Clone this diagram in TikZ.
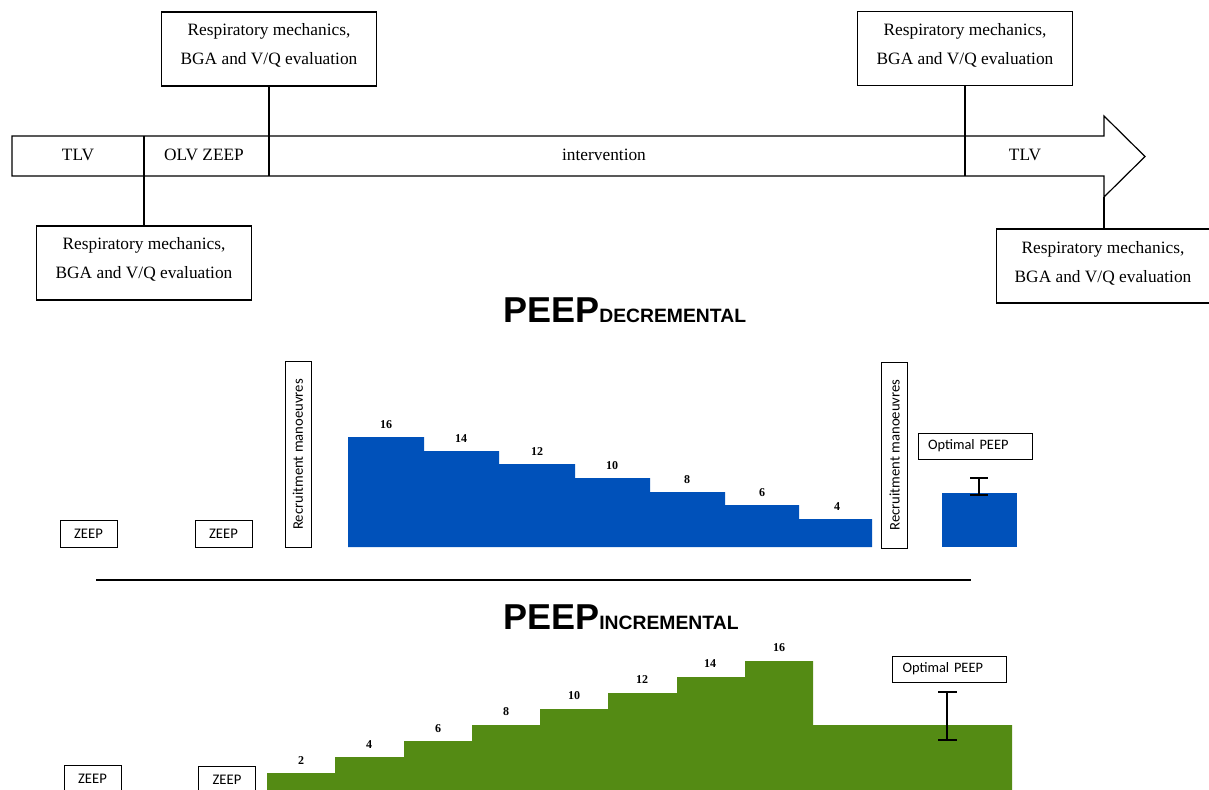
\documentclass[tikz,border=0pt]{standalone}
\usepackage{fontspec}
\setmainfont{Liberation Serif}
\newfontfamily\calibrifont{Carlito}
\newfontfamily\arialfont{Liberation Sans}
\definecolor{peepblue}{RGB}{0,81,186}
\definecolor{peepgreen}{RGB}{84,139,20}
\begin{document}
\begin{tikzpicture}[x=0.75pt,y=-0.75pt,
  frame/.style={draw=black, line width=0.9pt},
  evalbox/.style={draw=black, line width=0.8pt, minimum width=161.25pt, minimum height=55.5pt, inner sep=0pt},
  evaltext/.style={align=center, inner sep=0pt, font=\fontsize{13}{21.75}\selectfont},
  arrowtext/.style={inner sep=0pt, font=\fontsize{13}{15}\selectfont},
  steplabel/.style={inner sep=0pt, font=\bfseries\fontsize{9}{10}\selectfont},
  zeepbox/.style={draw=black, line width=0.6pt, minimum width=42.75pt, minimum height=20.25pt, inner sep=0pt, font=\calibrifont\fontsize{11}{12}\selectfont},
  recbox/.style={draw=black, line width=0.7pt, rotate=90, minimum width=139.5pt, minimum height=19.5pt, inner sep=0pt, font=\calibrifont\fontsize{11}{12}\selectfont},
  optbox/.style={draw=black, line width=0.6pt, minimum height=19.5pt, text width=70.5pt, inner xsep=7.5pt, inner ysep=0pt, align=left, font=\calibrifont\fontsize{10.8}{12}\selectfont},
  errbar/.style={draw=black, line width=1.9pt},
  title/.style={anchor=base west, inner sep=0pt, font=\arialfont\bfseries}
]
\clip (0,0) rectangle (1209,789);

% ---------- timeline arrow ----------
\draw[frame] (12,136) -- (1104,136) -- (1104,116) -- (1145,156.5) -- (1104,197) -- (1104,176) -- (12,176) -- cycle;
\coordinate (d1t) at (144,136); \coordinate (d1b) at (144,176);
\coordinate (d2t) at (269,136); \coordinate (d2b) at (269,176);
\coordinate (d3t) at (965,136); \coordinate (d3b) at (965,176);
\coordinate (hb) at (1104,197);
\draw[frame] (d1t) -- (d1b);
\draw[frame] (d2t) -- (d2b);
\draw[frame] (d3t) -- (d3b);

\node[arrowtext] (p1) at (78,155) {TLV};
\node[arrowtext] (p2) at (204,155) {OLV ZEEP};
\node[arrowtext] (p3) at (604,155) {intervention};
\node[arrowtext] (p4) at (1025,155) {TLV};

% ---------- evaluation boxes ----------
\node[evalbox] (b1) at (269,49) {};
\node[evaltext] (t1) at (269,45.5) {Respiratory mechanics,\\BGA and V/Q evaluation};
\draw[frame] (b1.south) -- (d2t);

\node[evalbox] (b2) at (965,48.5) {};
\node[evaltext] (t2) at (965,45) {Respiratory mechanics,\\BGA and V/Q evaluation};
\draw[frame] (b2.south) -- (d3t);

\node[evalbox] (b3) at (144,263) {};
\node[evaltext] (t3) at (144,259.5) {Respiratory mechanics,\\BGA and V/Q evaluation};
\draw[frame] (d1b) -- (b3.north);

\node[evalbox] (b4) at (1104,266) {};
\node[evaltext] (t4) at (1103,263.5) {Respiratory mechanics,\\BGA and V/Q evaluation};
\draw[frame] (hb) -- (b4.north);

% ---------- PEEP decremental ----------
\node[title] (tdec) at (503,322) {\fontsize{27}{30}\selectfont PEEP\fontsize{14.5}{16}\selectfont DECREMENTAL};

\node[zeepbox] (z1) at (88.5,533.5) {ZEEP};
\node[zeepbox] (z2) at (223.5,533.5) {ZEEP};
\node[recbox] (r1) at (298,454.5) {Recruitment manoeuvres};
\node[recbox] (r2) at (894.5,455) {Recruitment manoeuvres};

\fill[peepblue] (348,547) -- (348,437) -- (424,437) -- (424,451) -- (499,451) -- (499,464) -- (575,464) -- (575,478) -- (650,478) -- (650,492) -- (725,492) -- (725,505) -- (799,505) -- (799,519) -- (872,519) -- (872,547) -- cycle;
\node[steplabel] (s16) at (386,425) {16};
\node[steplabel] (s14) at (461,439) {14};
\node[steplabel] (s12) at (537,452) {12};
\node[steplabel] (s10) at (612,466) {10};
\node[steplabel] (s8) at (687,480) {8};
\node[steplabel] (s6) at (762,493) {6};
\node[steplabel] (s4) at (837,507) {4};

\node[optbox] (o1) at (975,446) {Optimal PEEP};
\fill[peepblue] (942,493) rectangle (1017,547);
\draw[errbar] (970,478) -- (988,478) (979,478) -- (979,495) (970,495) -- (988,495);

\draw[line width=1.6pt] (96,580) -- (971,580);

% ---------- PEEP incremental ----------
\node[title] (tinc) at (503,629) {\fontsize{27}{30}\selectfont PEEP\fontsize{14.5}{16}\selectfont INCREMENTAL};

\node[zeepbox] (z3) at (92.5,778.5) {ZEEP};
\node[zeepbox] (z4) at (227,779.5) {ZEEP};

\fill[peepgreen] (267,800) -- (267,773) -- (335,773) -- (335,757) -- (404,757) -- (404,741) -- (472,741) -- (472,725) -- (540,725) -- (540,709) -- (608,709) -- (608,693) -- (677,693) -- (677,677) -- (745,677) -- (745,661) -- (813,661) -- (813,725) -- (1012,725) -- (1012,800) -- cycle;
\node[steplabel] (g2) at (301,761) {2};
\node[steplabel] (g4) at (369,745) {4};
\node[steplabel] (g6) at (438,729) {6};
\node[steplabel] (g8) at (506,712) {8};
\node[steplabel] (g10) at (574,696) {10};
\node[steplabel] (g12) at (642,680) {12};
\node[steplabel] (g14) at (710,664) {14};
\node[steplabel] (g16) at (779,648) {16};

\node[optbox] (o2) at (949.5,669) {Optimal PEEP};
\draw[errbar] (938,692) -- (957,692) (947,692) -- (947,740) (938,740) -- (957,740);
\end{tikzpicture}
\end{document}
